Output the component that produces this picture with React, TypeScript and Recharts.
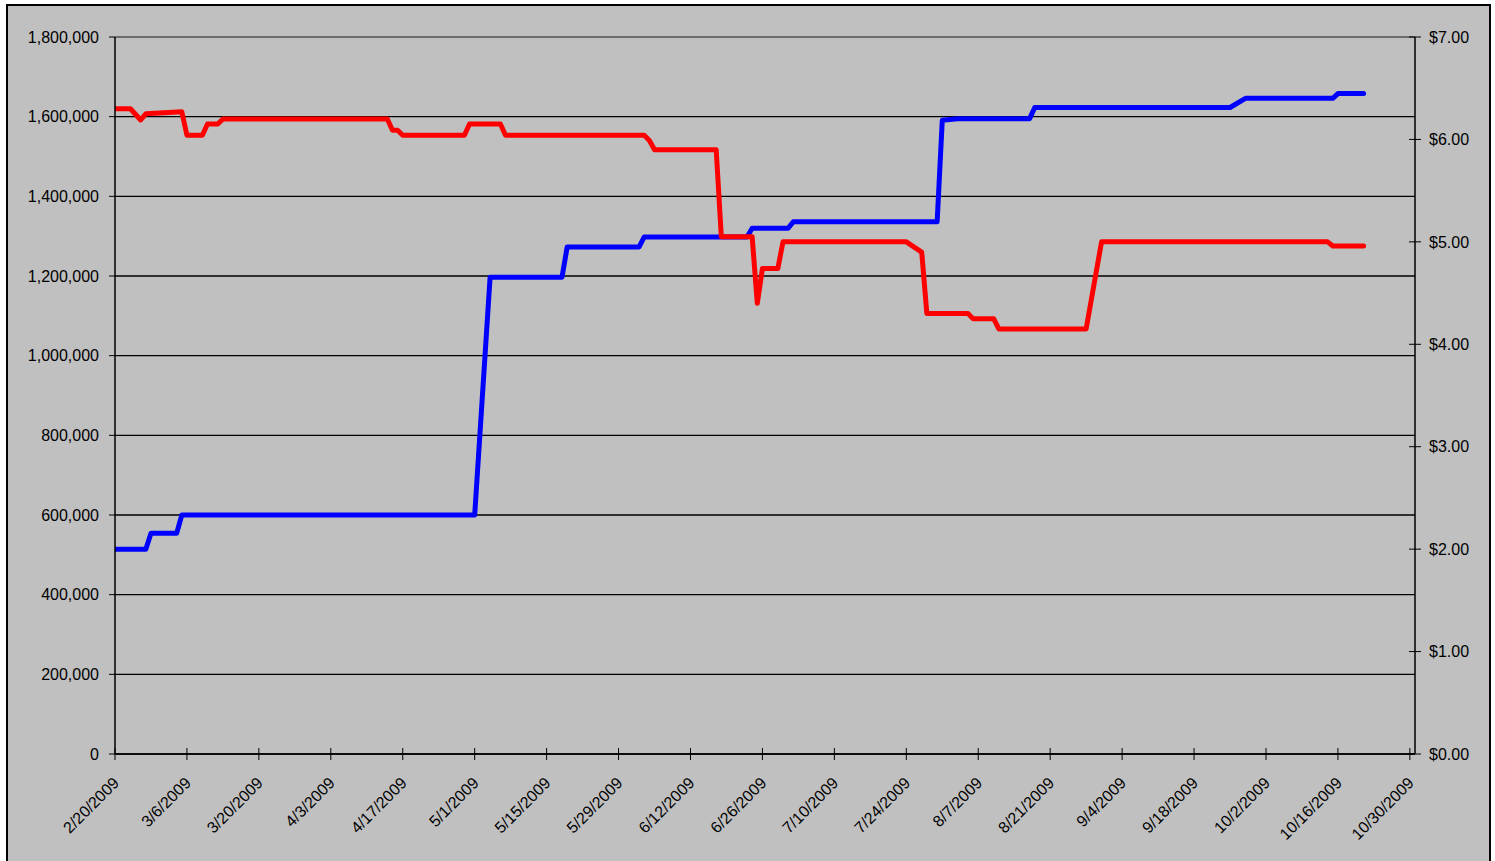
import React from 'react';
import { LineChart, Line, XAxis, YAxis, CartesianGrid, ReferenceLine } from 'recharts';

// ---- tick labels / axis ranges ----
const tickDates = [
  '2/20/2009', '3/6/2009', '3/20/2009', '4/3/2009', '4/17/2009', '5/1/2009', '5/15/2009',
  '5/29/2009', '6/12/2009', '6/26/2009', '7/10/2009', '7/24/2009', '8/7/2009', '8/21/2009',
  '9/4/2009', '9/18/2009', '10/2/2009', '10/16/2009', '10/30/2009',
];
const axisStart = '2/20/2009';
const axisEnd = '10/31/2009';
const shareTicks = [0, 200000, 400000, 600000, 800000, 1000000, 1200000, 1400000, 1600000, 1800000];
const priceTicks = [0, 1, 2, 3, 4, 5, 6, 7];

// ---- blue series (left axis) ----
const shareDates = [
  '2/20/2009', '2/26/2009', '2/27/2009', '3/4/2009', '3/5/2009', '5/1/2009', '5/4/2009',
  '5/18/2009', '5/19/2009', '6/2/2009', '6/3/2009', '6/23/2009', '6/24/2009', '7/1/2009',
  '7/2/2009', '7/30/2009', '7/31/2009', '8/3/2009', '8/17/2009', '8/18/2009', '9/25/2009',
  '9/28/2009', '10/15/2009', '10/16/2009', '10/21/2009',
];
const shareValues = [
  514000, 514000, 554000, 554000, 600000, 600000, 1197000,
  1197000, 1273000, 1273000, 1298000, 1298000, 1320000, 1320000,
  1336000, 1336000, 1591000, 1595000, 1595000, 1623000, 1623000,
  1646000, 1646000, 1658000, 1658000,
];

// ---- red series (right axis) ----
const priceDates = [
  '2/20/2009', '2/23/2009', '2/25/2009', '2/26/2009', '3/5/2009', '3/6/2009', '3/9/2009',
  '3/10/2009', '3/12/2009', '3/13/2009', '4/14/2009', '4/15/2009', '4/16/2009', '4/17/2009',
  '4/29/2009', '4/30/2009', '5/6/2009', '5/7/2009', '6/3/2009', '6/4/2009', '6/5/2009',
  '6/17/2009', '6/18/2009', '6/24/2009', '6/25/2009', '6/26/2009', '6/29/2009', '6/30/2009',
  '7/24/2009', '7/27/2009', '7/28/2009', '8/5/2009', '8/6/2009', '8/10/2009', '8/11/2009',
  '8/28/2009', '8/31/2009', '10/14/2009', '10/15/2009', '10/21/2009',
];
const priceValues = [
  6.30, 6.30, 6.19, 6.25, 6.27, 6.04, 6.04,
  6.15, 6.15, 6.20, 6.20, 6.09, 6.09, 6.04,
  6.04, 6.15, 6.15, 6.04, 6.04, 5.99, 5.90,
  5.90, 5.05, 5.05, 4.40, 4.74, 4.74, 5.00,
  5.00, 4.90, 4.30, 4.30, 4.25, 4.25, 4.15,
  4.15, 5.00, 5.00, 4.96, 4.96,
];

const toT = (s: string) => {
  const [m, d, y] = s.split('/').map(Number);
  return Date.UTC(y, m - 1, d);
};
const fmtDate = (t: number) => {
  const d = new Date(t);
  return `${d.getUTCMonth() + 1}/${d.getUTCDate()}/${d.getUTCFullYear()}`;
};

const shareData = shareDates.map((d, i) => ({ t: toT(d), v: shareValues[i] }));
const priceData = priceDates.map((d, i) => ({ t: toT(d), v: priceValues[i] }));
const xTicks = tickDates.map(toT);

const FONT = '"Liberation Sans", Arial, sans-serif';
const FS = 16;

const XTick = (props: any) => {
  const { x, y, payload } = props;
  const ax = x + 5;
  const ay = y + 30;
  return (
    <g>
      <line x1={x} x2={x} y1={y - 6} y2={y + 6} stroke="#000" strokeWidth={1} />
      <text
        x={ax}
        y={ay}
        textAnchor="end"
        transform={`rotate(-45 ${ax} ${ay})`}
        fontSize={FS}
        fontFamily={FONT}
        fill="#000"
      >
        {fmtDate(payload.value)}
      </text>
    </g>
  );
};

const RightTick = (props: any) => {
  const { x, y, payload } = props;
  return (
    <g>
      <line x1={x - 6} x2={x + 6} y1={y} y2={y} stroke="#000" strokeWidth={1} />
      <text x={x + 14} y={y} dy="0.355em" textAnchor="start" fontSize={FS} fontFamily={FONT} fill="#000">
        {`$${Number(payload.value).toFixed(2)}`}
      </text>
    </g>
  );
};

export default function App() {
  return (
    <div
      style={{
        position: 'absolute',
        left: 6,
        top: 4,
        width: 1485,
        height: 857,
        boxSizing: 'border-box',
        border: '2px solid #000',
        borderBottom: 'none',
        background: '#C0C0C0',
        overflow: 'hidden',
      }}
    >
      <LineChart width={1481} height={855} margin={{ top: 31, right: 0, bottom: 27, left: 0 }}>
        <CartesianGrid yAxisId="left" vertical={false} stroke="#000" strokeWidth={1.3} />
        <XAxis
          dataKey="t"
          type="number"
          domain={[toT(axisStart), toT(axisEnd)]}
          allowDataOverflow
          ticks={xTicks}
          interval={0}
          height={80}
          tickSize={0}
          tickMargin={0}
          tickLine={false}
          tick={<XTick />}
          axisLine={{ stroke: '#000', strokeWidth: 1.5 }}
        />
        <YAxis
          yAxisId="left"
          orientation="left"
          width={107}
          domain={[0, 1800000]}
          ticks={shareTicks}
          interval={0}
          tickSize={6}
          tickMargin={10}
          tickLine={{ stroke: '#000' }}
          axisLine={{ stroke: '#000', strokeWidth: 1.5 }}
          tick={{ fill: '#000', fontSize: FS, fontFamily: FONT }}
          tickFormatter={(v: number) => v.toLocaleString('en-US')}
        />
        <YAxis
          yAxisId="right"
          orientation="right"
          width={74}
          domain={[0, 7]}
          ticks={priceTicks}
          interval={0}
          tickSize={0}
          tickMargin={0}
          tickLine={false}
          axisLine={{ stroke: '#000', strokeWidth: 1.5 }}
          tick={<RightTick />}
        />
        <ReferenceLine yAxisId="left" y={1800000} stroke="#808080" strokeWidth={1.5} />
        <Line
          yAxisId="left"
          data={shareData}
          dataKey="v"
          type="linear"
          stroke="#0000FF"
          strokeWidth={5}
          strokeLinejoin="round"
          strokeLinecap="round"
          dot={false}
          activeDot={false}
          isAnimationActive={false}
        />
        <Line
          yAxisId="right"
          data={priceData}
          dataKey="v"
          type="linear"
          stroke="#FF0000"
          strokeWidth={5}
          strokeLinejoin="round"
          strokeLinecap="round"
          dot={false}
          activeDot={false}
          isAnimationActive={false}
        />
      </LineChart>
    </div>
  );
}
